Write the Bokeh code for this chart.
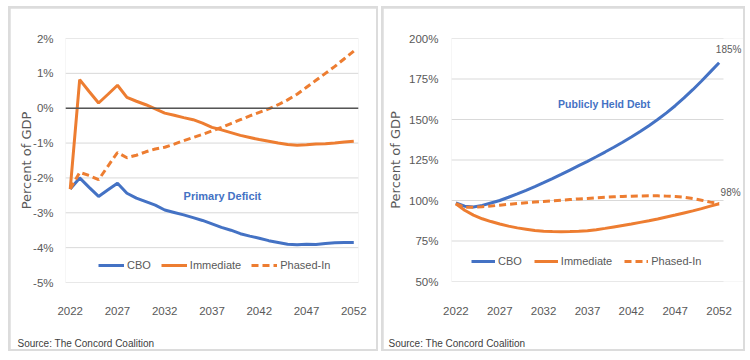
from bokeh.plotting import figure
from bokeh.layouts import row, column
from bokeh.models import FixedTicker, Span, Label, Legend, LegendItem, Title
from bokeh.embed import file_html
from bokeh.resources import INLINE

years = list(range(2022, 2053))
x_ticks = [2022, 2027, 2032, 2037, 2042, 2047, 2052]

# Primary deficit, percent of GDP
deficit_cbo = [-2.32, -2.0, -2.27, -2.53, -2.34, -2.15, -2.44, -2.58, -2.68, -2.78,
               -2.92, -2.99, -3.06, -3.14, -3.22, -3.32, -3.42, -3.5, -3.6, -3.67,
               -3.73, -3.8, -3.85, -3.9, -3.92, -3.9, -3.91, -3.88, -3.86, -3.85, -3.85]
deficit_immediate = [-2.32, 0.82, 0.48, 0.15, 0.4, 0.66, 0.31, 0.2, 0.1, -0.02,
                     -0.14, -0.2, -0.27, -0.33, -0.43, -0.55, -0.62, -0.7, -0.78, -0.84,
                     -0.9, -0.95, -1.0, -1.04, -1.06, -1.05, -1.03, -1.02, -1.0, -0.97, -0.95]
deficit_phased = [-2.32, -1.84, -1.93, -2.05, -1.66, -1.27, -1.42, -1.35, -1.25, -1.17,
                  -1.12, -1.03, -0.93, -0.84, -0.75, -0.65, -0.55, -0.44, -0.33, -0.22,
                  -0.12, -0.02, 0.1, 0.24, 0.4, 0.6, 0.8, 1.0, 1.2, 1.42, 1.64]
deficit_ticks = [-5, -4, -3, -2, -1, 0, 1, 2]

# Publicly held debt, percent of GDP
debt_cbo = [98.5, 96.5, 96.0, 97.0, 98.5, 100.0, 102.0, 104.1, 106.3, 108.6,
            111.0, 113.5, 116.1, 118.8, 121.5, 124.2, 127.0, 129.9, 132.9, 136.0,
            139.2, 142.6, 146.2, 150.0, 154.1, 158.5, 163.3, 168.4, 173.8, 179.4, 185.0]
debt_immediate = [98.0, 94.0, 91.0, 88.7, 87.0, 85.5, 84.2, 83.1, 82.3, 81.5,
                  81.0, 80.8, 80.7, 80.8, 81.0, 81.3, 82.0, 82.8, 83.7, 84.6,
                  85.5, 86.5, 87.5, 88.6, 89.8, 91.0, 92.3, 93.6, 95.0, 96.5, 98.0]
debt_phased = [98.0, 95.8, 95.9, 96.2, 96.6, 97.1, 97.6, 98.1, 98.6, 99.0,
               99.4, 99.8, 100.2, 100.6, 101.0, 101.3, 101.7, 102.0, 102.3, 102.5,
               102.7, 102.8, 102.9, 102.9, 102.7, 102.4, 102.0, 101.2, 100.2, 99.0, 98.0]
debt_ticks = [50, 75, 100, 125, 150, 175, 200]

series_names = ["CBO", "Immediate", "Phased-In"]
source_text = "Source: The Concord Coalition"
y_title = "Percent of GDP"

BLUE = "#4472C4"
ORANGE = "#ED7D31"
GRID = "#D9D9D9"
TXT = "#595959"
NARROW = "'Liberation Sans Narrow', 'Liberation Sans', Arial, sans-serif"
WIDE = "'DejaVu Sans', sans-serif"
X0, X1 = 2021.5, 2052.5


def base_fig(width, height, x_range, y_range, left, right, top, bottom,
             yticks, ystand, xstand, ylab_stand, spacer_stand):
    p = figure(width=width, height=height, x_range=x_range, y_range=y_range,
               output_backend="svg", toolbar_location=None,
               min_border_left=left, min_border_right=right,
               min_border_top=top, min_border_bottom=bottom)
    p.outline_line_color = None
    p.background_fill_color = "white"
    p.border_fill_color = "white"
    p.xgrid.visible = False
    p.ygrid.visible = False
    n = len(yticks)
    p.segment(x0=[X0] * n, x1=[X1] * n, y0=yticks, y1=yticks, line_color=GRID, line_width=1)
    p.yaxis.ticker = FixedTicker(ticks=yticks)
    p.yaxis.major_label_overrides = {t: f"{t}%" for t in yticks}
    p.xaxis.ticker = FixedTicker(ticks=x_ticks)
    p.xaxis.major_label_overrides = {t: str(t) for t in x_ticks}
    for ax in (p.xaxis[0], p.yaxis[0]):
        ax.axis_line_color = None
        ax.major_tick_line_color = None
        ax.minor_tick_line_color = None
        ax.major_label_text_font = NARROW
        ax.major_label_text_font_size = "11.5px"
        ax.major_label_text_color = TXT
    p.yaxis.major_tick_out = 0
    p.yaxis.major_tick_in = 0
    p.xaxis.major_label_standoff = xstand
    p.yaxis.major_label_standoff = ystand
    p.yaxis.axis_label = y_title
    p.yaxis.axis_label_text_font = WIDE
    p.yaxis.axis_label_text_font_size = "13px"
    p.yaxis.axis_label_text_font_style = "normal"
    p.yaxis.axis_label_text_color = TXT
    p.yaxis.axis_label_standoff = ylab_stand
    # invisible spacer below the year labels, so the source line sits near the bottom edge
    p.xaxis.axis_label = "\u00a0"
    p.xaxis.axis_label_text_font_size = "10px"
    p.xaxis.axis_label_standoff = spacer_stand
    return p


def add_lines(p, ys):
    r1 = p.line(years, ys[0], line_color=BLUE, line_width=3)
    r2 = p.line(years, ys[1], line_color=ORANGE, line_width=3)
    r3 = p.line(years, ys[2], line_color=ORANGE, line_width=3, line_dash="7 4")
    return [r1, r2, r3]


def add_legend(p, rends, loc, spacing, gw):
    items = [LegendItem(label=n, renderers=[r]) for n, r in zip(series_names, rends)]
    lg = Legend(items=items, orientation="horizontal", location=loc,
                border_line_color=None, background_fill_alpha=0, padding=0, margin=0,
                label_text_font=NARROW, label_text_font_size="11px", label_text_color=TXT,
                glyph_width=gw, glyph_height=14, label_height=14, label_standoff=3,
                spacing=spacing)
    p.add_layout(lg)


def add_source(p, offset):
    t = Title(text=source_text, align="left", offset=offset, standoff=2,
              text_font=NARROW, text_font_size="10px", text_font_style="normal",
              text_color="#404040")
    p.add_layout(t, "below")


# ---------- Left: primary deficit ----------
p1 = base_fig(366, 341, (X0, X1), (-5.0, 2.0), 55, 18, 30, 66,
              deficit_ticks, 12, 18, -4, 3)
p1.add_layout(Span(location=0, dimension="width", line_color="#555555", line_width=1.5))
r = add_lines(p1, [deficit_cbo, deficit_immediate, deficit_phased])
add_legend(p1, r, (33, 10), 10, 26)
p1.add_layout(Label(x=2038.1, y=-2.51, text="Primary Deficit", text_align="center",
                    text_baseline="middle", text_font=NARROW, text_font_size="11px",
                    text_font_style="bold", text_color=BLUE))
add_source(p1, -48)

# ---------- Right: publicly held debt ----------
x1_right = X1 + 20 * 31 / 272
p2 = base_fig(360, 341, (X0, x1_right), (50, 200), 68, 0, 30, 67,
              debt_ticks, 13, 19, 3, 3)
r = add_lines(p2, [debt_cbo, debt_immediate, debt_phased])
add_legend(p2, r, (20, 13), 12, 24)
p2.add_layout(Label(x=2038.9, y=159.5, text="Publicly Held Debt", text_align="center",
                    text_baseline="middle", text_font=NARROW, text_font_size="10.5px",
                    text_font_style="bold", text_color=BLUE))
p2.add_layout(Label(x=2052, y=debt_cbo[-1], x_offset=9.5, y_offset=13, text=f"{debt_cbo[-1]:.0f}%",
                    text_align="center", text_baseline="middle", text_font=NARROW,
                    text_font_size="10px", text_color=TXT))
p2.add_layout(Label(x=2052, y=debt_phased[-1], x_offset=11.5, y_offset=11, text=f"{debt_phased[-1]:.0f}%",
                    text_align="center", text_baseline="middle", text_font=NARROW,
                    text_font_size="10px", text_color=TXT))
add_source(p2, -63)

for p in (p1, p2):
    p.margin = (2, 2, 2, 2)

left = column(p1, styles={"background-color": "#DCDCDC"})
right = column(p2, styles={"background-color": "#DCDCDC"})
layout = row(left, right, spacing=3, margin=(6, 0, 0, 8))

open("out.html", "w").write(file_html(layout, INLINE))
